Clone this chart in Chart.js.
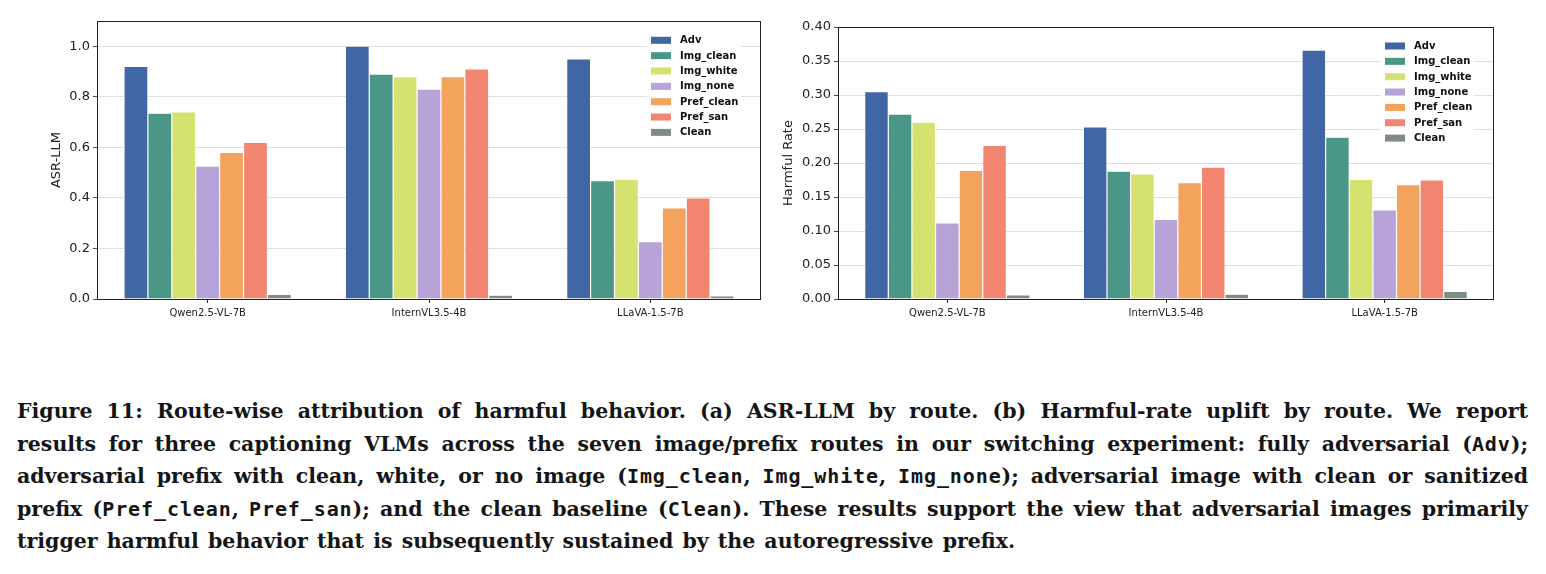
<!DOCTYPE html>
<html>
<head>
<meta charset="utf-8">
<script src="https://cdn.jsdelivr.net/npm/chart.js@4.4.1/dist/chart.umd.min.js"></script>
<style>
  html, body { margin: 0; padding: 0; background: #fff; }
  body { width: 1546px; height: 574px; position: relative; overflow: hidden; }
  .panel { position: absolute; top: 0; height: 330px; }
  .caption {
    position: absolute; left: 17px; top: 395px; width: 1511px;
    font-family: "DejaVu Serif", serif;
    font-weight: bold; font-size: 20.5px; line-height: 32.5px;
    color: #151515;
  }
  .caption div { text-align: justify; text-align-last: justify; height: 32.5px; }
  .caption div.last { text-align: left; text-align-last: left; word-spacing: 2px; }
  .caption code {
    font-family: "DejaVu Sans Mono", monospace; font-weight: bold;
    font-size: 20px; letter-spacing: 0.9px; line-height: 1;
  }
</style>
</head>
<body>
<div class="panel" style="left:0;width:770px"><canvas id="asrChart"></canvas></div>
<div class="panel" style="left:770px;width:776px"><canvas id="harmChart"></canvas></div>

<div class="caption">
  <div>Figure 11: Route-wise attribution of harmful behavior. (a) ASR-LLM by route. (b) Harmful-rate uplift by route. We report</div>
  <div>results for three captioning VLMs across the seven image/prefix routes in our switching experiment: fully adversarial (<code>Adv</code>);</div>
  <div>adversarial prefix with clean, white, or no image (<code>Img_clean</code>, <code>Img_white</code>, <code>Img_none</code>); adversarial image with clean or sanitized</div>
  <div>prefix (<code>Pref_clean</code>, <code>Pref_san</code>); and the clean baseline (<code>Clean</code>). These results support the view that adversarial images primarily</div>
  <div class="last">trigger harmful behavior that is subsequently sustained by the autoregressive prefix.</div>
</div>

<script>
// models on the x axis, one bar per route
const models = ["Qwen2.5-VL-7B", "InternVL3.5-4B", "LLaVA-1.5-7B"];
const routes = ["Adv", "Img_clean", "Img_white", "Img_none", "Pref_clean", "Pref_san", "Clean"];

// (a) ASR-LLM
const asrAdv = [0.92, 1.0, 0.95];
const asrImgClean = [0.735, 0.89, 0.468];
const asrImgWhite = [0.74, 0.88, 0.474];
const asrImgNone = [0.526, 0.83, 0.227];
const asrPrefClean = [0.58, 0.88, 0.36];
const asrPrefSan = [0.62, 0.91, 0.4];
const asrClean = [0.018, 0.015, 0.012];
const asrTicks = [0.0, 0.2, 0.4, 0.6, 0.8, 1.0];

// (b) Harmful rate
const harmAdv = [0.305, 0.253, 0.366];
const harmImgClean = [0.272, 0.188, 0.238];
const harmImgWhite = [0.26, 0.184, 0.176];
const harmImgNone = [0.112, 0.117, 0.131];
const harmPrefClean = [0.189, 0.171, 0.168];
const harmPrefSan = [0.226, 0.194, 0.175];
const harmClean = [0.006, 0.007, 0.011];
const harmTicks = [0.0, 0.05, 0.1, 0.15, 0.2, 0.25, 0.3, 0.35, 0.4];

const routeColors = ["#4067a4", "#4a9787", "#d6e270", "#b7a3d8", "#f3a35b", "#f1856f", "#7f8c84"];

Chart.defaults.font.family = "'DejaVu Sans', sans-serif";
Chart.defaults.color = "#222";

// box around the plot + legend in the upper right
const frameLegend = {
  id: "frameLegend",
  afterDatasetsDraw(chart, args, opts) {
    const ctx = chart.ctx;
    const a = chart.chartArea;
    const sets = chart.data.datasets;
    const step = 15.35;
    ctx.save();
    ctx.font = "bold 10px 'DejaVu Sans'";
    let w = 0;
    sets.forEach(function (ds) {
      w = Math.max(w, ctx.measureText(ds.label).width);
    });
    ctx.fillStyle = "#fff";
    ctx.fillRect(opts.x - 4, opts.y - 9, 29 + w + 6, step * (sets.length - 1) + 18);
    ctx.textBaseline = "middle";
    sets.forEach(function (ds, i) {
      const y = opts.y + i * step;
      ctx.fillStyle = ds.backgroundColor;
      ctx.fillRect(opts.x, y - 3.5, 20, 7);
      ctx.fillStyle = "#111";
      ctx.fillText(ds.label, opts.x + 29, y + 0.5);
    });
    ctx.strokeStyle = "#222";
    ctx.lineWidth = 1;
    ctx.strokeRect(a.left + 0.5, a.top + 0.5, a.right - a.left - 1, a.bottom - a.top);
    ctx.restore();
  },
};

function makeChart(id, series, ticks, yMax, yTitle, digits, box) {
  const ctx = document.getElementById(id).getContext("2d");
  return new Chart(ctx, {
    type: "bar",
    data: {
      labels: models,
      datasets: series.map(function (values, i) {
        return {
          label: routes[i],
          data: values,
          backgroundColor: routeColors[i],
          borderColor: "rgba(255,255,255,0.55)",
          borderWidth: 0.6,
          barPercentage: 1.0,
          categoryPercentage: 0.756,
        };
      }),
    },
    options: {
      responsive: true,
      maintainAspectRatio: false,
      animation: false,
      events: [],
      layout: { padding: { left: 0, right: box.right, top: box.top, bottom: 0 } },
      plugins: {
        legend: { display: false },
        tooltip: { enabled: false },
        frameLegend: { x: box.legendX, y: box.legendY },
      },
      scales: {
        x: {
          afterFit: function (axis) { axis.height = 31; },
          grid: {
            offset: false,
            drawOnChartArea: false,
            tickLength: 4,
            tickColor: "#222",
          },
          border: { display: false },
          ticks: { font: { size: 10 }, padding: 4, maxRotation: 0 },
        },
        y: {
          min: 0,
          max: yMax,
          afterFit: function (axis) { axis.width = box.axisWidth; },
          afterBuildTicks: function (axis) {
            axis.ticks = ticks.map(function (v) { return { value: v }; });
          },
          grid: {
            color: "rgba(0,0,0,0.16)",
            lineWidth: 0.8,
            borderDash: [3, 3],
            tickLength: 4,
            tickColor: "#222",
            tickBorderDash: [],
          },
          border: { display: false },
          ticks: {
            font: { size: 13 },
            padding: 3,
            callback: function (value) { return Number(value).toFixed(digits); },
          },
          title: {
            display: true,
            text: yTitle,
            font: { size: 13 },
            padding: { top: box.titlePad, bottom: 0 },
          },
        },
      },
    },
    plugins: [frameLegend],
  });
}

document.addEventListener("DOMContentLoaded", function () {
  makeChart(
    "asrChart",
    [asrAdv, asrImgClean, asrImgWhite, asrImgNone, asrPrefClean, asrPrefSan, asrClean],
    asrTicks, 1.1, "ASR-LLM", 1,
    { right: 9, top: 21, axisWidth: 97, titlePad: 49, legendX: 651, legendY: 40.3 }
  );
  makeChart(
    "harmChart",
    [harmAdv, harmImgClean, harmImgWhite, harmImgNone, harmPrefClean, harmPrefSan, harmClean],
    harmTicks, 0.4, "Harmful Rate", 2,
    { right: 52, top: 27, axisWidth: 68, titlePad: 11, legendX: 615, legendY: 46 }
  );
});
</script>
</body>
</html>
